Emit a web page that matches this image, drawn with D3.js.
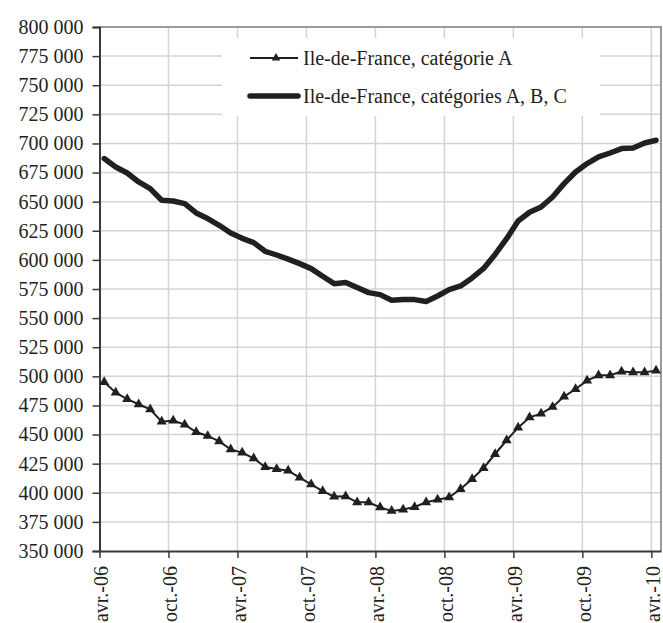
<!DOCTYPE html>
<html>
<head>
<meta charset="utf-8">
<script src="https://cdn.jsdelivr.net/npm/d3@7"></script>
<style>
  html, body { margin: 0; padding: 0; background: #fff; }
  svg { display: block; }
  text { font-family: "Liberation Serif", "Times New Roman", serif; fill: #231f20; }
</style>
</head>
<body>
<svg id="chart" width="663" height="623"></svg>
<script>
// ---- data ----
const xTickLabels = ["avr.-06", "oct.-06", "avr.-07", "oct.-07", "avr.-08", "oct.-08", "avr.-09", "oct.-09", "avr.-10"];
const seriesNames = ["Ile-de-France, catégorie A", "Ile-de-France, catégories A, B, C"];
const catA = [495100, 486000, 480500, 476000, 471700, 461100, 462000, 458500, 452200, 448800,
  444200, 437300, 434500, 429600, 422100, 420400, 419000, 413000, 407300, 401500,
  396700, 397000, 391800, 391800, 387500, 384400, 385600, 387800, 391800, 394100,
  396100, 403200, 411800, 421300, 433300, 445100, 455900, 464800, 468000, 473700,
  482600, 489100, 496300, 500900, 500900, 504100, 503500, 503500, 504900];
const catABC = [687000, 679800, 674600, 666900, 661200, 651200, 650600, 648300, 640300, 635500,
  629700, 623100, 618500, 614800, 607400, 604200, 600700, 596800, 592500, 585900,
  579600, 580500, 576200, 571900, 570200, 565300, 565900, 565900, 564200, 569000,
  574500, 577600, 584500, 592700, 604700, 618200, 633400, 640900, 645400, 654000,
  665500, 675500, 682700, 688400, 691800, 695600, 696100, 700400, 702700];
const yMin = 350000, yMax = 800000, yStep = 25000;

(function () {
// ---- layout ----
const svg = d3.select("#chart");
const pLeft = 99.5, pRight = 661, pTop = 27, pBottom = 551;
const monthsSpan = 48.84;      // axis extent in months from avr.-06
const pointOffset = 0.41;      // data points sit a bit after the month tick
const fs = 20;

const x = d3.scaleLinear().domain([0, monthsSpan]).range([pLeft, pRight]);
const y = d3.scaleLinear().domain([yMin, yMax]).range([pBottom, pTop]);

const yTicks = d3.range(yMin, yMax + 1, yStep);
const xTicks = xTickLabels.map((d, i) => i * 6);
const fmt = v => d3.format(",")(v).replace(/,/g, " ");

// grid
const grid = svg.append("g");
grid.selectAll("line.h").data(yTicks.filter(v => v > yMin && v < yMax)).join("line")
  .attr("x1", pLeft).attr("x2", pRight)
  .attr("y1", d => y(d)).attr("y2", d => y(d))
  .attr("stroke", "#d4d4d4").attr("stroke-width", 1.5);
grid.selectAll("line.v").data(xTicks.filter(v => v > 0)).join("line")
  .attr("x1", d => x(d)).attr("x2", d => x(d))
  .attr("y1", pTop).attr("y2", pBottom)
  .attr("stroke", "#d4d4d4").attr("stroke-width", 1.5);

// frame top & right
svg.append("path")
  .attr("d", `M${pLeft},${pTop}H${pRight}V${pBottom}`)
  .attr("fill", "none").attr("stroke", "#9a9a9a").attr("stroke-width", 2);

// legend box (white, no border)
svg.append("rect").attr("x", 222).attr("y", 38).attr("width", 378).attr("height", 78).attr("fill", "#fff");

// y axis
const yAxis = svg.append("g").attr("transform", `translate(${pLeft},0)`)
  .call(d3.axisLeft(y).tickValues(yTicks).tickFormat(fmt).tickSize(7).tickPadding(9));
yAxis.select(".domain").attr("stroke", "#3a3a3a").attr("stroke-width", 2);
yAxis.selectAll(".tick line").attr("stroke", "#3a3a3a").attr("stroke-width", 1.5);
yAxis.selectAll(".tick text").attr("font-size", fs).attr("fill", "#231f20")
  .attr("font-family", "Liberation Serif, serif");

// x axis
const xAxis = svg.append("g").attr("transform", `translate(0,${pBottom})`)
  .call(d3.axisBottom(x).tickValues(xTicks).tickFormat((d, i) => xTickLabels[i]).tickSize(7).tickSizeOuter(0));
xAxis.select(".domain").attr("stroke", "#3a3a3a").attr("stroke-width", 2);
xAxis.selectAll(".tick line").attr("stroke", "#3a3a3a").attr("stroke-width", 1.5);
xAxis.selectAll(".tick text")
  .attr("font-size", fs).attr("fill", "#231f20").attr("font-family", "Liberation Serif, serif")
  .attr("text-anchor", "end")
  .attr("transform", "rotate(-90)")
  .attr("x", -15).attr("y", 0).attr("dy", "0.42em");

// lines
const line = d3.line().x((d, i) => x(i + pointOffset)).y(d => y(d));
svg.append("path").datum(catABC).attr("d", line)
  .attr("fill", "none").attr("stroke", "#231f20").attr("stroke-width", 5.5)
  .attr("stroke-linejoin", "round").attr("stroke-linecap", "round");
svg.append("path").datum(catA).attr("d", line)
  .attr("fill", "none").attr("stroke", "#231f20").attr("stroke-width", 2);

const tri = d3.symbol().type(d3.symbolTriangle).size(44);
svg.append("g").selectAll("path").data(catA).join("path")
  .attr("d", tri)
  .attr("transform", (d, i) => `translate(${x(i + pointOffset)},${y(d)})`)
  .attr("fill", "#231f20");

// legend
const lg = svg.append("g");
lg.append("line").attr("x1", 250).attr("x2", 298).attr("y1", 58).attr("y2", 58)
  .attr("stroke", "#231f20").attr("stroke-width", 2);
lg.append("path").attr("d", d3.symbol().type(d3.symbolTriangle).size(32))
  .attr("transform", "translate(276,58)").attr("fill", "#231f20");
lg.append("text").attr("x", 303).attr("y", 58).attr("dy", "0.35em").attr("font-size", fs).text(seriesNames[0]);
lg.append("line").attr("x1", 250).attr("x2", 298).attr("y1", 96).attr("y2", 96)
  .attr("stroke", "#231f20").attr("stroke-width", 5.5).attr("stroke-linecap", "round");
lg.append("text").attr("x", 303).attr("y", 96).attr("dy", "0.35em").attr("font-size", fs).text(seriesNames[1]);
})();
</script>
</body>
</html>
